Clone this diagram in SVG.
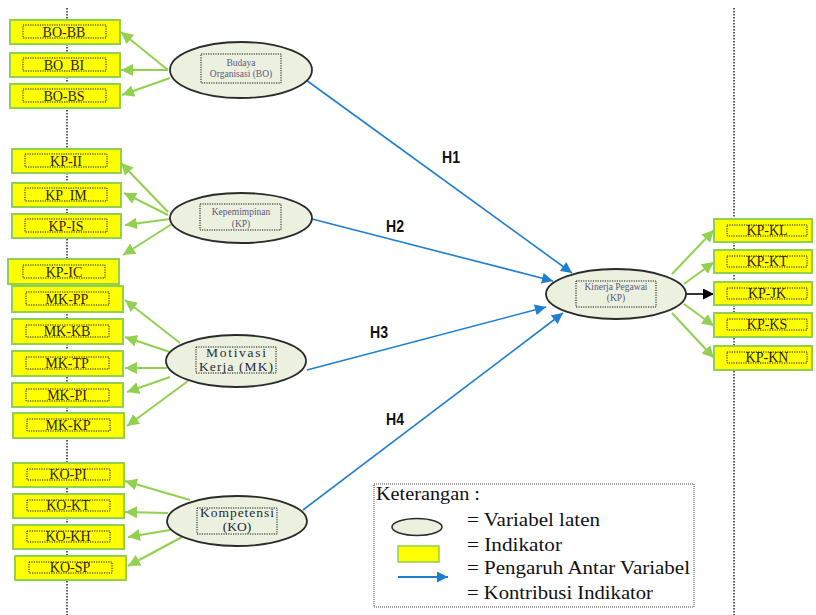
<svg xmlns="http://www.w3.org/2000/svg" width="816" height="615" viewBox="0 0 816 615">
<style>
.guide{stroke:#333;stroke-width:1.6;stroke-dasharray:1.5,1.5;fill:none}
.box{fill:#ffff00;stroke:#92d050;stroke-width:2}
.inner{fill:none;stroke:#111;stroke-width:1;stroke-dasharray:1.2,1.2}
.btxt{font-family:"Liberation Serif",serif;font-size:14px;fill:#2a2200;text-anchor:middle}
.ell{fill:#ebf1de;stroke:#2b2b2b;stroke-width:1.8}
.etxt{font-family:"Liberation Serif",serif;font-size:9.5px;fill:#5d5680;text-anchor:middle}
.etxtL{font-family:"Liberation Serif",serif;font-size:13.5px;fill:#1e2a3a;text-anchor:middle}
.g{stroke:#92d050;stroke-width:2;fill:none}
.b{stroke:#1f7fcf;stroke-width:1.6;fill:none}
.h{font-family:"Liberation Sans",sans-serif;font-weight:bold;font-size:17px;fill:#111;text-anchor:middle}
.leg{font-family:"Liberation Serif",serif;font-size:18px;fill:#111}
</style>
<defs>
<marker id="ag" markerUnits="userSpaceOnUse" markerWidth="12" markerHeight="12" viewBox="0 0 10 10" refX="10" refY="5" orient="auto"><path d="M0,0 L10,5 L0,10 Z" fill="#92d050"/></marker>
<marker id="ab" markerUnits="userSpaceOnUse" markerWidth="12" markerHeight="11" viewBox="0 0 10 10" refX="10" refY="5" orient="auto"><path d="M0,0 L10,5 L0,10 Z" fill="#1f7fcf"/></marker>
<marker id="ak" markerUnits="userSpaceOnUse" markerWidth="12" markerHeight="11" viewBox="0 0 10 10" refX="10" refY="5" orient="auto"><path d="M0,0 L10,5 L0,10 Z" fill="#000"/></marker>
</defs>
<rect width="816" height="615" fill="#fff"/>
<line class="guide" x1="67" y1="8" x2="67" y2="615"/>
<line class="guide" x1="734" y1="8" x2="734" y2="615"/>

<g id="connectors">
<line class="g" x1="168" y1="70" x2="121" y2="32" marker-end="url(#ag)"/>
<line class="g" x1="168" y1="70" x2="121" y2="70" marker-end="url(#ag)"/>
<line class="g" x1="170" y1="78" x2="122" y2="95" marker-end="url(#ag)"/>
<line class="g" x1="168" y1="212" x2="121" y2="163" marker-end="url(#ag)"/>
<line class="g" x1="168" y1="215" x2="124" y2="193" marker-end="url(#ag)"/>
<line class="g" x1="170" y1="219" x2="125" y2="225" marker-end="url(#ag)"/>
<line class="g" x1="172" y1="224" x2="123" y2="255" marker-end="url(#ag)"/>
<line class="g" x1="180" y1="343" x2="125" y2="300" marker-end="url(#ag)"/>
<line class="g" x1="170" y1="352" x2="125" y2="337" marker-end="url(#ag)"/>
<line class="g" x1="167" y1="368" x2="125" y2="368" marker-end="url(#ag)"/>
<line class="g" x1="170" y1="377" x2="127" y2="392" marker-end="url(#ag)"/>
<line class="g" x1="188" y1="381" x2="127" y2="426" marker-end="url(#ag)"/>
<line class="g" x1="190" y1="500" x2="125" y2="481" marker-end="url(#ag)"/>
<line class="g" x1="168" y1="513" x2="125" y2="512" marker-end="url(#ag)"/>
<line class="g" x1="170" y1="530" x2="128" y2="537" marker-end="url(#ag)"/>
<line class="g" x1="182" y1="537" x2="128" y2="566" marker-end="url(#ag)"/>
<line class="g" x1="672" y1="274" x2="714" y2="230" marker-end="url(#ag)"/>
<line class="g" x1="684" y1="284" x2="714" y2="262" marker-end="url(#ag)"/>
<line x1="686" y1="294" x2="714" y2="294" stroke="#000" stroke-width="1.6" marker-end="url(#ak)"/>
<line class="g" x1="684" y1="304" x2="714" y2="326" marker-end="url(#ag)"/>
<line class="g" x1="672" y1="313" x2="714" y2="358" marker-end="url(#ag)"/>
<line class="b" x1="306" y1="80" x2="572" y2="273" marker-end="url(#ab)"/>
<line class="b" x1="312" y1="219" x2="553" y2="281" marker-end="url(#ab)"/>
<line class="b" x1="307" y1="370" x2="546" y2="307" marker-end="url(#ab)"/>
<line class="b" x1="303" y1="510" x2="563" y2="313" marker-end="url(#ab)"/>
<text class="h" x="451" y="163" textLength="18" lengthAdjust="spacingAndGlyphs">H1</text>
<text class="h" x="395" y="232" textLength="18" lengthAdjust="spacingAndGlyphs">H2</text>
<text class="h" x="379" y="338" textLength="18" lengthAdjust="spacingAndGlyphs">H3</text>
<text class="h" x="395" y="425" textLength="18" lengthAdjust="spacingAndGlyphs">H4</text>
</g>

<g id="BO-BB"><rect class="box" x="10" y="20" width="110" height="24"/><rect class="inner" x="23" y="25" width="83" height="13"/><text class="btxt" x="64" y="37">BO-BB</text></g>
<g id="BO-BI"><rect class="box" x="10" y="53" width="110" height="24"/><rect class="inner" x="23" y="58" width="83" height="13"/><text class="btxt" x="64" y="70" xml:space="preserve">BO  BI</text></g>
<g id="BO-BS"><rect class="box" x="10" y="84" width="110" height="24"/><rect class="inner" x="23" y="89" width="83" height="13"/><text class="btxt" x="64" y="101">BO-BS</text></g>

<g id="KP-II"><rect class="box" x="12" y="149" width="109" height="24"/><rect class="inner" x="25" y="154" width="82" height="13"/><text class="btxt" x="66" y="166">KP-II</text></g>
<g id="KP-IM"><rect class="box" x="12" y="183" width="109" height="24"/><rect class="inner" x="25" y="188" width="82" height="13"/><text class="btxt" x="66" y="200" xml:space="preserve">KP  IM</text></g>
<g id="KP-IS"><rect class="box" x="12" y="214" width="109" height="24"/><rect class="inner" x="25" y="219" width="82" height="13"/><text class="btxt" x="66" y="231">KP-IS</text></g>
<g id="KP-IC"><rect class="box" x="8" y="259" width="111" height="25"/><rect class="inner" x="23" y="265" width="82" height="13"/><text class="btxt" x="64" y="277">KP-IC</text></g>

<g id="MK-PP"><rect class="box" x="12" y="286" width="111" height="26"/><rect class="inner" x="26" y="292" width="83" height="13"/><text class="btxt" x="67" y="304">MK-PP</text></g>
<g id="MK-KB"><rect class="box" x="12" y="319" width="111" height="25"/><rect class="inner" x="26" y="325" width="83" height="12"/><text class="btxt" x="67" y="336">MK-KB</text></g>
<g id="MK-TP"><rect class="box" x="12" y="351" width="111" height="25"/><rect class="inner" x="26" y="357" width="83" height="12"/><text class="btxt" x="67" y="368">MK-TP</text></g>
<g id="MK-PI"><rect class="box" x="12" y="383" width="111" height="24"/><rect class="inner" x="26" y="389" width="83" height="12"/><text class="btxt" x="67" y="400">MK-PI</text></g>
<g id="MK-KP"><rect class="box" x="13" y="413" width="111" height="25"/><rect class="inner" x="27" y="419" width="83" height="12"/><text class="btxt" x="68" y="430">MK-KP</text></g>

<g id="KO-PI"><rect class="box" x="13" y="463" width="111" height="24"/><rect class="inner" x="27" y="469" width="83" height="11"/><text class="btxt" x="68" y="479">KO-PI</text></g>
<g id="KO-KT"><rect class="box" x="13" y="494" width="111" height="24"/><rect class="inner" x="27" y="500" width="83" height="11"/><text class="btxt" x="68" y="510">KO-KT</text></g>
<g id="KO-KH"><rect class="box" x="13" y="525" width="111" height="24"/><rect class="inner" x="27" y="531" width="83" height="11"/><text class="btxt" x="68" y="541">KO-KH</text></g>
<g id="KO-SP"><rect class="box" x="15" y="556" width="111" height="24"/><rect class="inner" x="29" y="562" width="83" height="11"/><text class="btxt" x="70" y="572">KO-SP</text></g>

<g id="KP-KL"><rect class="box" x="714" y="219" width="98" height="23"/><rect class="inner" x="727" y="225" width="80" height="11"/><text class="btxt" x="767" y="235">KP-KL</text></g>
<g id="KP-KT"><rect class="box" x="714" y="250" width="98" height="23"/><rect class="inner" x="727" y="256" width="80" height="11"/><text class="btxt" x="767" y="266">KP-KT</text></g>
<g id="KP-JK"><rect class="box" x="714" y="282" width="98" height="23"/><rect class="inner" x="727" y="288" width="80" height="11"/><text class="btxt" x="767" y="298">KP-JK</text></g>
<g id="KP-KS"><rect class="box" x="714" y="313" width="98" height="24"/><rect class="inner" x="727" y="319" width="80" height="11"/><text class="btxt" x="767" y="329">KP-KS</text></g>
<g id="KP-KN"><rect class="box" x="714" y="346" width="98" height="24"/><rect class="inner" x="727" y="352" width="80" height="11"/><text class="btxt" x="767" y="362">KP-KN</text></g>

<g id="BO"><ellipse class="ell" cx="241" cy="70" rx="71" ry="28"/><rect class="inner" x="201" y="54" width="80" height="29"/><text class="etxt" x="241" y="66">Budaya</text><text class="etxt" x="241" y="77">Organisasi (BO)</text></g>
<g id="KP"><ellipse class="ell" cx="241" cy="218" rx="71" ry="25"/><rect class="inner" x="200" y="204" width="81" height="26"/><text class="etxt" x="241" y="215" fill="#4d6a88">Kepemimpinan</text><text class="etxt" x="241" y="227">(KP)</text></g>
<g id="MK"><ellipse class="ell" cx="236" cy="361" rx="70" ry="26"/><rect class="inner" x="196" y="347" width="80" height="26"/><text class="etxtL" x="236" y="357" textLength="60" lengthAdjust="spacing">Motivasi</text><text class="etxtL" x="236" y="371" textLength="74" lengthAdjust="spacing">Kerja (MK)</text></g>
<g id="KO"><ellipse class="ell" cx="237" cy="521" rx="70" ry="25"/><rect class="inner" x="197" y="508" width="80" height="26"/><text class="etxtL" x="237" y="517" textLength="74" lengthAdjust="spacing">Kompetensi</text><text class="etxtL" x="237" y="531">(KO)</text></g>
<g id="KinerjaKP"><ellipse class="ell" cx="616" cy="294" rx="70" ry="25"/><rect class="inner" x="576" y="281" width="80" height="26"/><text class="etxt" x="616" y="290">Kinerja Pegawai</text><text class="etxt" x="616" y="301">(KP)</text></g>

<g id="legend">
<rect x="374" y="484" width="320" height="123" fill="none" stroke="#444" stroke-width="1" stroke-dasharray="1,1"/>
<text class="leg" x="376" y="500" textLength="104" lengthAdjust="spacingAndGlyphs">Keterangan :</text>
<ellipse cx="417" cy="527" rx="25" ry="8.5" fill="#ebf1de" stroke="#2b2b2b" stroke-width="1.5"/>
<rect x="398" y="546" width="41" height="16" fill="#ffff00" stroke="#92d050" stroke-width="1.5"/>
<line x1="398" y1="577" x2="448" y2="577" stroke="#1f7fcf" stroke-width="2" marker-end="url(#ab)"/>
<text class="leg" x="467" y="526" textLength="133" lengthAdjust="spacingAndGlyphs">= Variabel laten</text>
<text class="leg" x="467" y="551" textLength="95" lengthAdjust="spacingAndGlyphs">= Indikator</text>
<text class="leg" x="467" y="574" textLength="223" lengthAdjust="spacingAndGlyphs">= Pengaruh Antar Variabel</text>
<text class="leg" x="467" y="599" textLength="186" lengthAdjust="spacingAndGlyphs">= Kontribusi Indikator</text>
</g>
</svg>
